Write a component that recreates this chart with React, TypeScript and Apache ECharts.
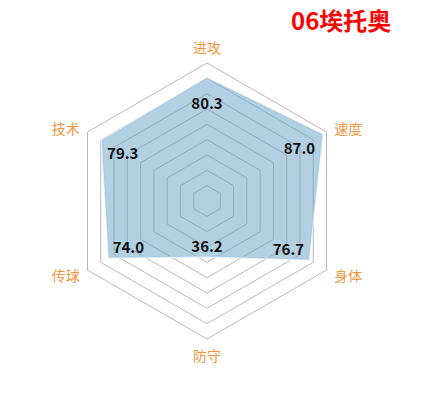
import React, { useEffect, useRef } from "react";
import * as echarts from "echarts";

const playerName = "06埃托奥";
// counter-clockwise from the top, the way the radar lays them out
const abilities = ["进攻", "技术", "传球", "防守", "身体", "速度"];
const scores = [80.3, 79.3, 74.0, 36.2, 76.7, 87.0];
const scoreMax = 90;
const labelPull = 0.8; // labels sit inside the polygon, toward the centre

const App = () => {
  const chartRef = useRef<HTMLDivElement>(null);

  useEffect(() => {
    document.body.style.margin = "0";
    if (!chartRef.current) return;
    const chart = echarts.init(chartRef.current, null, { renderer: "svg" });
    const font = "'Noto Sans CJK SC', 'Noto Sans', sans-serif";

    chart.setOption({
      animation: false,
      title: {
        text: playerName,
        left: 286,
        top: 2,
        textStyle: { color: "#ff0000", fontSize: 24, fontWeight: "bold", fontFamily: font },
      },
      radar: {
        center: [207, 201],
        radius: 138,
        splitNumber: 9,
        nameGap: 9,
        indicator: abilities.map((name) => ({ name, max: scoreMax, min: 0 })),
        axisName: { color: "#f0963f", fontSize: 14, fontFamily: font },
        axisLine: { show: false },
        axisTick: { show: false },
        splitArea: { show: false },
        splitLine: { lineStyle: { color: "#b8b8b8", width: 1 } },
      },
      series: [
        {
          type: "radar",
          symbol: "none",
          data: [
            {
              value: scores,
              lineStyle: { color: "#eaf3f9", width: 2 },
              areaStyle: { color: "rgba(110,165,200,0.52)", opacity: 1 },
            },
          ],
        },
        {
          type: "radar",
          symbol: "circle",
          symbolSize: 1,
          silent: true,
          data: [
            {
              value: scores.map((v) => v * labelPull),
              itemStyle: { color: "rgba(0,0,0,0)", borderWidth: 0 },
              lineStyle: { color: "rgba(0,0,0,0)", width: 0 },
              label: {
                show: true,
                position: "inside",
                color: "#111",
                fontSize: 15,
                fontWeight: "bold",
                fontFamily: font,
                formatter: (p: any) => (p.value / labelPull).toFixed(1),
              },
            },
          ],
        },
      ],
    });

    return () => chart.dispose();
  }, []);

  return <div ref={chartRef} style={{ width: 447, height: 404 }} />;
};

export default App;
